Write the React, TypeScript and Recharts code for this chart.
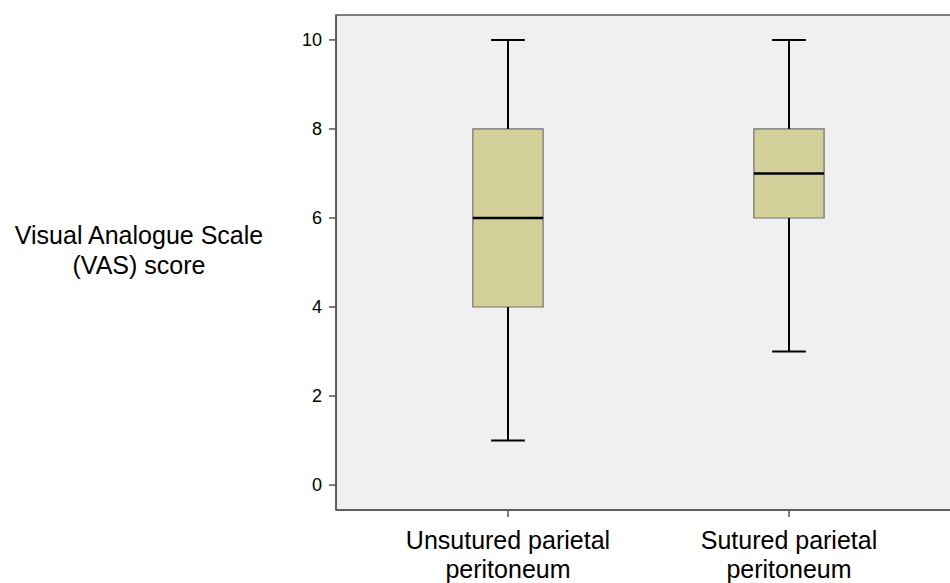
import React from 'react';
import {
  ComposedChart,
  XAxis,
  YAxis,
  ReferenceArea,
  ReferenceLine,
} from 'recharts';

const groups = ['Unsutured parietal peritoneum', 'Sutured parietal peritoneum'];
const positions = [1, 2];
const mins = [1, 3];
const q1s = [4, 6];
const medians = [6, 7];
const q3s = [8, 8];
const maxs = [10, 10];
const yTicks = [0, 2, 4, 6, 8, 10];

const data = groups.map((name, i) => ({
  name,
  x: positions[i],
  min: mins[i],
  q1: q1s[i],
  median: medians[i],
  q3: q3s[i],
  max: maxs[i],
}));

const X_MIN = 0.388;
const X_MAX = 3.0;
const Y_MIN = -0.56;
const Y_MAX = 10.56;
const BOX_HALF = 0.125;
const CAP_HALF = 0.06;
const FONT = '"Liberation Sans", Arial, sans-serif';

const splitLabel = (label: string) => {
  const parts = label.split(' ');
  return [parts.slice(0, 2).join(' '), parts.slice(2).join(' ')];
};

const CategoryTick = (props: any) => {
  const { x, y, payload } = props;
  const item = data.find((d) => d.x === payload.value);
  if (!item) return null;
  const [l1, l2] = splitLabel(item.name);
  return (
    <text x={x} y={y} textAnchor="middle" fill="#000" fontSize={25} fontFamily={FONT}>
      <tspan x={x} dy={32}>{l1}</tspan>
      <tspan x={x} dy={29}>{l2}</tspan>
    </text>
  );
};

const App = () => {
  return (
    <div style={{ position: 'absolute', left: 0, top: 0, width: 950, height: 583, overflow: 'hidden', background: '#fff' }}>
      <div
        style={{
          position: 'absolute',
          left: 0,
          width: 278,
          top: 220,
          textAlign: 'center',
          fontFamily: FONT,
          fontSize: 25,
          lineHeight: '30px',
          color: '#000',
        }}
      >
        Visual Analogue Scale
        <br />
        (VAS) score
      </div>
      <div style={{ position: 'absolute', left: 0, top: 0 }}>
        <ComposedChart
          width={1100}
          height={583}
          data={data}
          margin={{ top: 15, right: 30, left: 0, bottom: 0 }}
        >
          <XAxis
            type="number"
            dataKey="x"
            domain={[X_MIN, X_MAX]}
            allowDataOverflow
            ticks={positions}
            height={73}
            tickSize={7}
            tickMargin={0}
            tick={<CategoryTick />}
            axisLine={{ stroke: '#555', strokeWidth: 1.5 }}
            tickLine={{ stroke: '#555', strokeWidth: 1.5 }}
          />
          <YAxis
            type="number"
            domain={[Y_MIN, Y_MAX]}
            allowDataOverflow
            ticks={yTicks}
            width={336}
            tickSize={7}
            tickMargin={7}
            tick={{ fontSize: 18, fill: '#000', fontFamily: FONT }}
            axisLine={{ stroke: '#555', strokeWidth: 1.5 }}
            tickLine={{ stroke: '#555', strokeWidth: 1.5 }}
          />
          <ReferenceArea
            x1={X_MIN}
            x2={X_MAX}
            y1={Y_MIN}
            y2={Y_MAX}
            fill="#f0f0f0"
            fillOpacity={1}
            stroke="#555"
            strokeWidth={1.5}
          />
          {data.map((d) => (
            <React.Fragment key={d.name}>
              <ReferenceLine
                segment={[{ x: d.x, y: d.q3 }, { x: d.x, y: d.max }]}
                stroke="#000"
                strokeWidth={2}
              />
              <ReferenceLine
                segment={[{ x: d.x, y: d.min }, { x: d.x, y: d.q1 }]}
                stroke="#000"
                strokeWidth={2}
              />
              <ReferenceLine
                segment={[{ x: d.x - CAP_HALF, y: d.max }, { x: d.x + CAP_HALF, y: d.max }]}
                stroke="#000"
                strokeWidth={2}
              />
              <ReferenceLine
                segment={[{ x: d.x - CAP_HALF, y: d.min }, { x: d.x + CAP_HALF, y: d.min }]}
                stroke="#000"
                strokeWidth={2}
              />
              <ReferenceArea
                x1={d.x - BOX_HALF}
                x2={d.x + BOX_HALF}
                y1={d.q1}
                y2={d.q3}
                fill="#d3cf98"
                fillOpacity={1}
                stroke="#707070"
                strokeWidth={1.2}
              />
              <ReferenceLine
                segment={[{ x: d.x - BOX_HALF, y: d.median }, { x: d.x + BOX_HALF, y: d.median }]}
                stroke="#000"
                strokeWidth={2.5}
              />
            </React.Fragment>
          ))}
        </ComposedChart>
      </div>
    </div>
  );
};

export default App;
